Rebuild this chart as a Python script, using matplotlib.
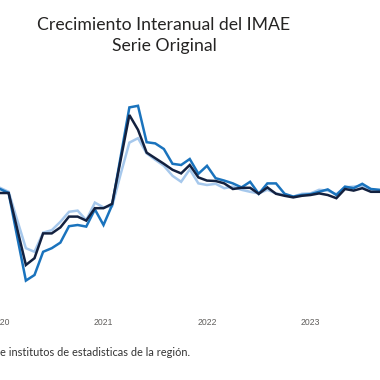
import matplotlib
matplotlib.use("Agg")
import matplotlib.pyplot as plt
import numpy as np

# month index: 0 = Jan 2020 (index -1 = Dec 2019)
months = list(range(-1, 46))

# interannual growth (%)
serie_clara = [4.3, 4.3, 3.3, -3.8, -10.8, -11.7, -6.9, -6.3, -4.2, -1.7, -1.4, -3.8, 0.6, -0.6, -0.3,
               7.8, 15.6, 16.7, 12.9, 11.3, 9.8, 7.3, 5.8, 8.9, 5.4,
               5.0, 5.3, 4.2, 4.6, 3.8, 3.3, 2.9, 3.8, 2.9, 2.5, 2.1, 2.8,
               2.9, 3.8, 3.6, 2.7, 4.4, 4.6, 4.8, 3.9, 3.6, 3.5]
serie_media = [4.5, 4.0, 3.0, -8.0, -18.9, -17.5, -11.7, -10.8, -9.4, -5.3, -5.0, -5.4, -1.1, -5.0, 0.0,
               12.2, 24.4, 24.8, 15.7, 15.4, 14.0, 10.3, 10.0, 11.5, 7.8, 9.8,
               6.7, 6.1, 5.4, 4.4, 5.8, 2.8, 5.4, 5.4, 2.8, 2.1, 2.5,
               2.7, 3.3, 3.9, 2.5, 4.6, 4.2, 5.3, 4.0, 3.8, 3.5]
serie_oscura = [3.0, 3.0, 3.0, -6.0, -15.0, -13.3, -7.1, -7.1, -5.6, -2.9, -2.9, -3.9, -0.8, -0.8, 0.3,
                11.4, 22.5, 18.8, 13.1, 11.7, 10.3, 8.8, 7.9, 10.0, 6.9,
                6.1, 6.0, 5.4, 4.0, 4.3, 4.3, 2.8, 4.4, 2.8, 2.3, 1.9, 2.3, 2.5,
                2.9, 2.5, 1.7, 4.0, 3.6, 4.2, 3.3, 3.3, 3.2]

tick_pos = [0, 12, 24, 36]
tick_labels = ["2020", "2021", "2022", "2023"]

fig = plt.figure(figsize=(3.8, 3.8), dpi=100)
fig.patch.set_facecolor("white")
ax = fig.add_axes([0, 70 / 380, 1, 310 / 380])

ax.plot(months, serie_clara, color="#a6c8ec", lw=1.8, solid_joinstyle="miter")
ax.plot(months, serie_media, color="#1a73bd", lw=1.8, solid_joinstyle="miter")
ax.plot(months, serie_oscura, color="#13213f", lw=1.8, solid_joinstyle="miter")

ax.set_xlim(0, 380 / 8.625)
ax.set_ylim(-26.25, 51.25)
for s in ax.spines.values():
    s.set_visible(False)
ax.set_yticks([])
ax.set_xticks(tick_pos)
ax.set_xticklabels(tick_labels, fontsize=6.2, color="#605e5c", family="Liberation Sans")
ax.tick_params(axis="x", length=0, pad=6)

fig.text(164 / 380, 1 - 25 / 380, "Crecimiento Interanual del IMAE", ha="center", va="center",
         fontsize=12.7, color="#252423", family="Lato")
fig.text(164 / 380, 1 - 46 / 380, "Serie Original", ha="center", va="center",
         fontsize=12.7, color="#252423", family="Lato")
fig.text(0, 1 - 353 / 380, "e institutos de estadisticas de la región.", ha="left", va="center",
         fontsize=7.9, color="#333333", family="Lato")

fig.savefig("out.png", dpi=100)
